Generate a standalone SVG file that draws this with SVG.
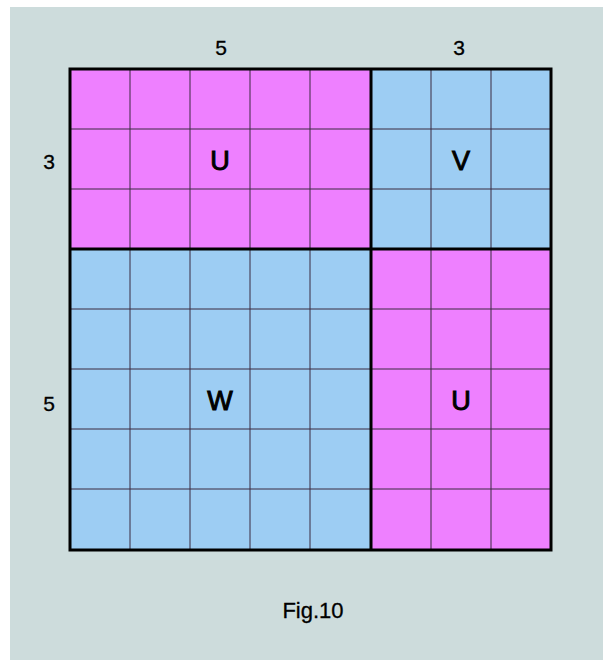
<svg xmlns="http://www.w3.org/2000/svg" width="603" height="660" viewBox="0 0 603 660">
<style>
.pink{fill:#EE80FF}
.blue{fill:#9DCDF3}
.thin{stroke:#3a2a40;stroke-width:1;fill:none}
.thick{stroke:#000;stroke-width:3;fill:none}
text{font-family:"Liberation Sans",Arial,sans-serif;fill:#000;text-anchor:middle}
.lab{font-size:21px;stroke:#000;stroke-width:0.3}
.big{font-size:27px;stroke:#000;stroke-width:1}
</style>
<rect x="10" y="7" width="593" height="653" fill="#CDDCDC"/>
<g id="U1"><rect class="pink" x="70" y="69" width="301" height="180"/></g>
<g id="V"><rect class="blue" x="371" y="69" width="180" height="180"/></g>
<g id="W"><rect class="blue" x="70" y="249" width="301" height="301"/></g>
<g id="U2"><rect class="pink" x="371" y="249" width="180" height="301"/></g>
<g id="grid">
<path class="thin" d="M130 69V550M190 69V550M250 69V550M310 69V550M431 69V550M491 69V550M70 129H551M70 189H551M70 309H551M70 369H551M70 429H551M70 489H551"/>
<path class="thick" d="M371 69V550M70 249H551"/>
<rect class="thick" x="70" y="69" width="481" height="481"/>
</g>
<g id="labels">
<text class="lab" x="221" y="55">5</text>
<text class="lab" x="459" y="55">3</text>
<text class="lab" x="49" y="169">3</text>
<text class="lab" x="49" y="411">5</text>
<text class="big" x="220" y="170">U</text>
<text class="big" x="461" y="170">V</text>
<text class="big" x="220" y="410">W</text>
<text class="big" x="461" y="410">U</text>
<text class="lab" x="313" y="618" style="font-size:22px">Fig.10</text>
</g>
</svg>
